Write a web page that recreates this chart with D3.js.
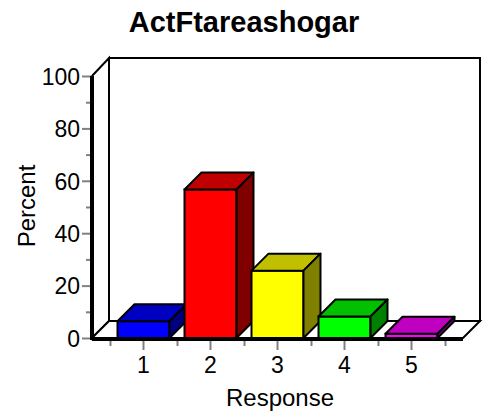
<!DOCTYPE html>
<html>
<head>
<meta charset="utf-8">
<script src="https://cdn.jsdelivr.net/npm/d3@7"></script>
<style>
  html, body { margin: 0; padding: 0; background: #fff; }
  svg { display: block; font-family: "Liberation Sans", Arial, sans-serif; }
</style>
</head>
<body>
<svg id="chart" width="488" height="417"></svg>
<script>
// Response categories and their percentages
const categories = ["1", "2", "3", "4", "5"];
const percents = [6.4, 56.7, 25.7, 8.2, 1.6];
const yTicks = [0, 20, 40, 60, 80, 100];
const yMinorTicks = [10, 30, 50, 70, 90];

// Face colours per bar: front, top, side
const frontColors = ["#0000ff", "#ff0000", "#ffff00", "#00ff00", "#ff00ff"];
const topColors   = ["#0000c0", "#c00000", "#c0c000", "#00c000", "#c000c0"];
const sideColors  = ["#000080", "#800000", "#808000", "#008000", "#800080"];

const svg = d3.select("#chart");

// 3-D depth offset of the box
const dx = 17, dy = -17;

const y = d3.scaleLinear().domain([0, 100]).range([338, 76]);
const x = d3.scaleBand().domain(categories).range([110, 445])
  .paddingInner(0.224).paddingOuter(0.112);

const floorLeft = x.range()[0] - 18;
const floorRight = x.range()[1] + 18;
const y0 = y(0), yTop = y(100);

// Back wall
svg.append("rect")
  .attr("x", floorLeft + dx).attr("y", yTop + dy - 1)
  .attr("width", floorRight - floorLeft).attr("height", y0 - yTop + 1)
  .attr("fill", "#fff").attr("stroke", "#000").attr("stroke-width", 2);

// Left wall
svg.append("polygon")
  .attr("points", [[floorLeft, yTop], [floorLeft + dx, yTop + dy - 1], [floorLeft + dx, y0 + dy], [floorLeft, y0]].join(" "))
  .attr("fill", "#fff").attr("stroke", "#000").attr("stroke-width", 2);

// Floor
svg.append("polygon")
  .attr("points", [[floorLeft, y0], [floorLeft + dx, y0 + dy], [floorRight + dx, y0 + dy], [floorRight, y0]].join(" "))
  .attr("fill", "#fff").attr("stroke", "#000").attr("stroke-width", 2);

// Bars
const bars = svg.append("g").selectAll("g").data(percents).join("g");
const bw = x.bandwidth();
bars.each(function (v, i) {
  const g = d3.select(this);
  const x0 = x(categories[i]), x1 = x0 + bw, yt = y(v);
  g.append("rect")
    .attr("x", x0).attr("y", yt).attr("width", bw).attr("height", y0 - yt)
    .attr("fill", frontColors[i]).attr("stroke", "#000").attr("stroke-width", 2);
  g.append("polygon")
    .attr("points", [[x0, yt], [x0 + dx, yt + dy], [x1 + dx, yt + dy], [x1, yt]].join(" "))
    .attr("fill", topColors[i]).attr("stroke", "#000").attr("stroke-width", 2)
    .attr("stroke-linejoin", "round");
  g.append("polygon")
    .attr("points", [[x1, yt], [x1 + dx, yt + dy], [x1 + dx, y0 + dy], [x1, y0]].join(" "))
    .attr("fill", sideColors[i]).attr("stroke", "#000").attr("stroke-width", 2)
    .attr("stroke-linejoin", "round");
});

// Y axis: minor then major ticks
const yMinor = svg.append("g").attr("transform", `translate(${floorLeft},0)`)
  .call(d3.axisLeft(y).tickValues(yMinorTicks).tickSize(6).tickFormat(""));
const yAxis = svg.append("g").attr("transform", `translate(${floorLeft},0)`)
  .call(d3.axisLeft(y).tickValues(yTicks).tickSize(10).tickPadding(2).tickFormat(d3.format("d")));
[yMinor, yAxis].forEach(a => {
  a.select(".domain").remove();
  a.selectAll(".tick line").attr("stroke", "#808080").attr("stroke-width", 2);
});
yAxis.selectAll(".tick text").attr("fill", "#000").style("font-size", "23px").attr("dy", "0.36em");

// X axis: boundary ticks and centre ticks
const boundaries = categories.map(c => x(c) - x.step() * x.paddingInner() / 2)
  .concat([x(categories[categories.length - 1]) + bw + x.step() * x.paddingInner() / 2]);
const xb = d3.scaleLinear().domain([0, 1]).range([0, 1]);
const xMinor = svg.append("g").attr("transform", `translate(0,${y0 + 1})`)
  .call(d3.axisBottom(xb).tickValues(boundaries).tickSize(7).tickFormat(""));
const xAxis = svg.append("g").attr("transform", `translate(0,${y0 + 1})`)
  .call(d3.axisBottom(x).tickSize(11).tickPadding(7));
[xMinor, xAxis].forEach(a => {
  a.select(".domain").remove();
  a.selectAll(".tick line").attr("stroke", "#808080").attr("stroke-width", 2);
});
xAxis.selectAll(".tick text").attr("fill", "#000").style("font-size", "23px");

// Heavy front axis lines
svg.append("line")
  .attr("x1", floorLeft).attr("x2", floorLeft).attr("y1", yTop).attr("y2", y0 + 2)
  .attr("stroke", "#000").attr("stroke-width", 4);
svg.append("line")
  .attr("x1", floorLeft).attr("x2", floorRight).attr("y1", y0 + 1).attr("y2", y0 + 1)
  .attr("stroke", "#000").attr("stroke-width", 4);

// Titles
svg.append("text").attr("x", 244).attr("y", 32).attr("text-anchor", "middle")
  .style("font-size", "29px").style("font-weight", "bold").text("ActFtareashogar");
svg.append("text").attr("x", 280).attr("y", 406).attr("text-anchor", "middle")
  .style("font-size", "24px").text("Response");
svg.append("text").attr("transform", "translate(35,206) rotate(-90)").attr("text-anchor", "middle")
  .style("font-size", "24px").text("Percent");
</script>
</body>
</html>
